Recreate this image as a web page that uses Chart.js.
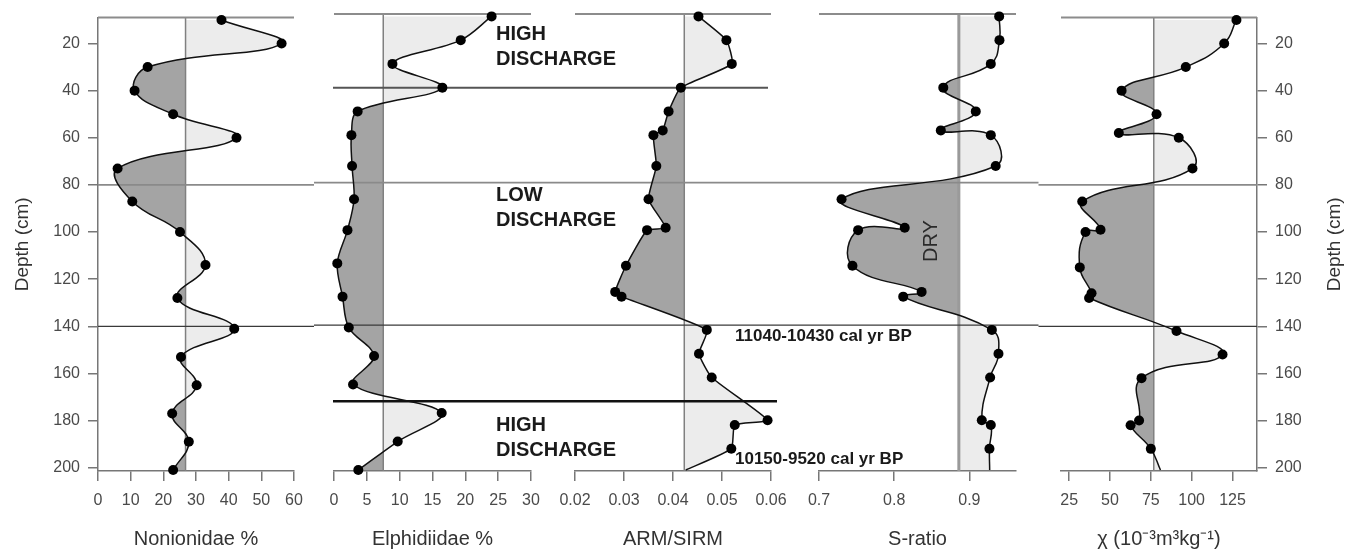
<!DOCTYPE html>
<html>
<head>
<meta charset="utf-8">
<script src="https://cdn.jsdelivr.net/npm/chart.js@4/dist/chart.umd.min.js"></script>
<style>
  html, body { margin: 0; padding: 0; background: #fff; }
  #wrap { position: relative; width: 1350px; height: 551px; overflow: hidden; }
  #wrap canvas { position: absolute; left: 0; top: 0; }
</style>
</head>
<body>
<div id="wrap">
  <canvas id="p0" width="1350" height="551"></canvas>
  <canvas id="p1" width="1350" height="551"></canvas>
  <canvas id="p2" width="1350" height="551"></canvas>
  <canvas id="p3" width="1350" height="551"></canvas>
  <canvas id="p4" width="1350" height="551"></canvas>
</div>
<script>
// foraminifera samples, depth in cm
const foramDepths = [10, 20, 30, 40, 50, 60, 73, 87, 100, 114, 128, 141, 153, 165, 177, 189, 201];
const nonionidae = [37.8, 56.2, 15.2, 11.2, 23.0, 42.4, 6.0, 10.5, 25.1, 32.9, 24.3, 41.7, 25.4, 30.2, 22.7, 27.8, 23.0];
const elphidiidae = [24.0, 19.3, 8.9, 16.5, 3.6, 2.65, 2.75, 3.05, 2.05, 0.5, 1.3, 2.25, 6.1, 2.9, 16.4, 9.7, 3.7];

// magnetic samples, depth in cm
const magDepths = [10, 20, 30, 40, 50, 58, 60, 73, 87, 99, 100, 115, 126, 128, 142, 152, 162, 180, 182, 192];
const armSirm = [0.0452, 0.0509, 0.0520, 0.0416, 0.0391, 0.0379, 0.0360, 0.0366, 0.0350, 0.0385, 0.0347, 0.0304, 0.0282, 0.0295, 0.0469, 0.0453, 0.0479, 0.0593, 0.0526, 0.0519];
const sRatio = [0.9396, 0.940, 0.9285, 0.8653, 0.9085, 0.862, 0.9285, 0.935, 0.730, 0.814, 0.752, 0.7445, 0.8365, 0.812, 0.9299, 0.9387, 0.9276, 0.9165, 0.9285, 0.9267];
const chi = [127.4, 119.9, 96.4, 57.1, 78.5, 55.4, 92.1, 100.5, 33.0, 44.2, 35.0, 31.5, 38.7, 37.2, 90.7, 118.9, 69.3, 67.8, 62.6, 75.0];

// where the magnetic curves run out at the base of the plot
const magTailDepth = 201;
const magTails = [0.0426, 0.927, 80.9];

// mean of each record (the vertical reference line)
const panelMeans = [26.8, 7.5, 0.0423, 0.886, 76.8];

// zone boundaries, cm
const boundaryDepths = [40, 80, 140, 172];

// axis ticks
const depthTicks = [20, 40, 60, 80, 100, 120, 140, 160, 180, 200];
const nonionidaeTicks = [0, 10, 20, 30, 40, 50, 60];
const elphidiidaeTicks = [0, 5, 10, 15, 20, 25, 30];
const armTicks = [0.02, 0.03, 0.04, 0.05, 0.06];
const sRatioTicks = [0.7, 0.8, 0.9];
const chiTicks = [25, 50, 75, 100, 125];

const family = "'Liberation Sans', Arial, Helvetica, sans-serif";
const panelLeft = [98, 334, 575, 819, 1061];
const panelRight = [294, 531, 771, 1016, 1257];

const panels = [
  { depths: foramDepths, values: nonionidae, min: 0, max: 60, ticks: nonionidaeTicks, digits: 0, title: 'Nonionidae %', tension: 0.42 },
  { depths: foramDepths, values: elphidiidae, min: 0, max: 30, ticks: elphidiidaeTicks, digits: 0, title: 'Elphidiidae %', tension: 0.35 },
  { depths: magDepths, values: armSirm, tail: magTails[0], min: 0.02, max: 0.06, ticks: armTicks, digits: 2, title: 'ARM/SIRM', tension: 0.15 },
  { depths: magDepths, values: sRatio, tail: magTails[1], min: 0.7, max: 0.962, ticks: sRatioTicks, digits: 1, title: 'S-ratio', tension: 0.45 },
  { depths: magDepths, values: chi, tail: magTails[2], min: 20, max: 140, ticks: chiTicks, digits: 0, title: 'χ (10⁻³m³kg⁻¹)', tension: 0.45 },
];

const ruleStyles = [
  { color: '#555', width: 2, ends: [333, 768] },
  { color: '#8a8a8a', width: 1.6, ends: [98, 1257] },
  { color: '#3a3a3a', width: 1.2, ends: [98, 1257] },
  { color: '#111', width: 2.5, ends: [333, 777] },
];

const notes = [
  { text: 'HIGH', x: 496, y: 34, font: 'bold 20px ' + family },
  { text: 'DISCHARGE', x: 496, y: 59, font: 'bold 20px ' + family },
  { text: 'LOW', x: 496, y: 195, font: 'bold 20px ' + family },
  { text: 'DISCHARGE', x: 496, y: 220, font: 'bold 20px ' + family },
  { text: 'HIGH', x: 496, y: 425, font: 'bold 20px ' + family },
  { text: 'DISCHARGE', x: 496, y: 450, font: 'bold 20px ' + family },
  { text: '11040-10430 cal yr BP', x: 735, y: 336, font: 'bold 17px ' + family },
  { text: '10150-9520 cal yr BP', x: 735, y: 459, font: 'bold 17px ' + family },
];

function shareOf(i) {
  const l = i === 0 ? panelLeft[0] : (panelRight[i - 1] + panelLeft[i]) / 2;
  const r = i === panelLeft.length - 1 ? panelRight[i] : (panelRight[i] + panelLeft[i + 1]) / 2;
  return [l, r];
}

const depthPanel = {
  id: 'depthPanel',
  beforeDatasetsDraw(chart, args, opts) {
    const { ctx, chartArea: a, scales: { x, y } } = chart;
    const meta = chart.getDatasetMeta(0);
    const pts = meta.data;
    const mx = x.getPixelForValue(opts.mean);

    // shade the departures from the mean: light above, dark below
    const outline = () => {
      ctx.beginPath();
      meta.dataset.path(ctx);
      ctx.lineTo(mx, pts[pts.length - 1].y);
      ctx.lineTo(mx, pts[0].y);
      ctx.closePath();
    };
    [[mx, a.right, '#ececec'], [a.left, mx, '#a4a4a4']].forEach(([l, r, col]) => {
      ctx.save();
      ctx.beginPath();
      ctx.rect(l, a.top, r - l, a.bottom - a.top);
      ctx.clip();
      outline();
      ctx.fillStyle = col;
      ctx.fill();
      ctx.restore();
    });

    ctx.save();
    // mean line
    ctx.strokeStyle = opts.index === 3 ? '#9a9a9a' : '#808080';
    ctx.lineWidth = opts.index === 3 ? 3 : 1.5;
    ctx.beginPath();
    ctx.moveTo(mx, a.top);
    ctx.lineTo(mx, a.bottom);
    ctx.stroke();

    // top edge
    ctx.strokeStyle = '#8c8c8c';
    ctx.lineWidth = 2;
    ctx.beginPath();
    ctx.moveTo(a.left, a.top);
    ctx.lineTo(a.right, a.top);
    ctx.stroke();

    // zone boundaries, this panel's share of them
    const [sl, sr] = shareOf(opts.index);
    boundaryDepths.forEach((d, k) => {
      const st = ruleStyles[k];
      const l = Math.max(sl, st.ends[0]);
      const r = Math.min(sr, st.ends[1]);
      if (r <= l) return;
      const py = y.getPixelForValue(d);
      ctx.strokeStyle = st.color;
      ctx.lineWidth = st.width;
      ctx.beginPath();
      ctx.moveTo(l, py);
      ctx.lineTo(r, py);
      ctx.stroke();
    });
    ctx.restore();
  },
  afterDraw(chart, args, opts) {
    if (opts.index !== panels.length - 1) return;
    const { ctx, chartArea: a } = chart;
    ctx.save();
    ctx.fillStyle = '#1a1a1a';
    ctx.textBaseline = 'middle';
    ctx.textAlign = 'left';
    notes.forEach(n => {
      ctx.font = n.font;
      ctx.fillText(n.text, n.x, n.y);
    });

    ctx.textAlign = 'center';
    ctx.font = '20px ' + family;
    ctx.fillStyle = '#2a2a2a';
    ctx.translate(931, 241);
    ctx.rotate(-Math.PI / 2);
    ctx.fillText('DRY', 0, 0);
    ctx.restore();

    ctx.save();
    ctx.fillStyle = '#333';
    ctx.font = '19px ' + family;
    ctx.textAlign = 'center';
    ctx.textBaseline = 'middle';
    ctx.translate(1335, (a.top + a.bottom) / 2);
    ctx.rotate(-Math.PI / 2);
    ctx.fillText('Depth (cm)', 0, 0);
    ctx.restore();
  }
};

panels.forEach((p, i) => {
  const pts = p.depths.map((d, k) => ({ x: p.values[k], y: d }));
  if (p.tail !== undefined) pts.push({ x: p.tail, y: magTailDepth });
  const last = i === panels.length - 1;
  const showDepth = i === 0 || last;

  new Chart(document.getElementById('p' + i), {
    type: 'line',
    data: {
      datasets: [{
        data: pts,
        borderColor: '#111',
        borderWidth: 1.5,
        tension: p.tension,
        fill: false,
        pointRadius: c => (c.dataIndex < p.values.length ? 5 : 0),
        pointBackgroundColor: '#000',
        pointBorderColor: '#000',
        pointBorderWidth: 0,
        clip: 8,
      }],
    },
    options: {
      indexAxis: 'y',
      responsive: false,
      animation: false,
      devicePixelRatio: 1,
      events: [],
      layout: {
        padding: {
          top: 14,
          bottom: 0,
          left: i === 0 ? 0 : panelLeft[i],
          right: last ? 0 : 1350 - panelRight[i],
        },
      },
      plugins: {
        legend: { display: false },
        tooltip: { enabled: false },
        depthPanel: { index: i, mean: panelMeans[i] },
      },
      scales: {
        x: {
          type: 'linear',
          position: 'bottom',
          min: p.min,
          max: p.max,
          afterBuildTicks: s => { s.ticks = p.ticks.map(v => ({ value: v })); },
          afterFit: s => { s.height = 80; },
          grid: { drawOnChartArea: false, tickLength: 10, color: '#777', lineWidth: 1.5 },
          border: { color: '#777', width: 1.5 },
          ticks: {
            color: '#4a4a4a',
            font: { size: 16, family },
            padding: 10,
            autoSkip: false,
            maxRotation: 0,
            callback: v => Number(v).toFixed(p.digits),
          },
          title: {
            display: true,
            text: p.title,
            color: '#333',
            font: { size: 20, family },
            padding: { top: 0, bottom: 0 },
          },
        },
        y: {
          type: 'linear',
          reverse: true,
          min: 9,
          max: 201.4,
          display: showDepth,
          position: last ? 'right' : 'left',
          afterBuildTicks: s => { s.ticks = depthTicks.map(v => ({ value: v })); },
          afterFit: s => { s.width = showDepth ? (i === 0 ? 98 : 93) : 0; },
          grid: { drawOnChartArea: false, tickLength: 10, color: '#777', lineWidth: 1.5 },
          border: { color: '#777', width: 1.5 },
          ticks: { color: '#4a4a4a', font: { size: 16, family }, padding: 8 },
          title: {
            display: i === 0,
            text: 'Depth (cm)',
            color: '#333',
            font: { size: 19, family },
            padding: { top: 11, bottom: 0 },
          },
        },
      },
    },
    plugins: [depthPanel],
  });
});
</script>
</body>
</html>
